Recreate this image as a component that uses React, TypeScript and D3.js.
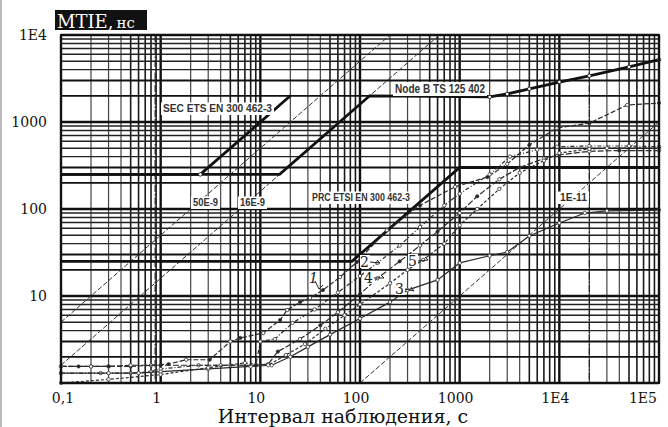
import React from "react";
import * as d3 from "d3";

// MTIE masks (ETSI / TS) and five measured MTIE curves, log-log, drawn with D3 scales.

const xTicks = [0.1, 1, 10, 100, 1000, 1e4, 1e5];
const xTickLabels = ["0,1", "1", "10", "100", "1000", "1E4", "1E5"];
const yTicks = [10, 100, 1000, 1e4];
const yTickLabels = ["10", "100", "1000", "1E4"];

// masks
const secTau = [0.1, 2.5, 20];
const secNs = [250, 250, 2000];
const nodeBTau = [0.1, 15.6, 125, 2000, 3000, 5000, 1e4, 2e4, 5e4, 1e5];
const nodeBNs = [250, 250, 2000, 1940, 2100, 2400, 2880, 3400, 4300, 5200];
const prcTau = [0.1, 83, 1000, 1e5];
const prcNs = [25, 25, 300, 300];

// frequency offset lines (endpoints)
const f50Tau = [0.1, 200];
const f50Ns = [5, 1e4];
const f16Tau = [0.1, 625];
const f16Ns = [1.6, 1e4];
const f11Tau = [100, 1e5];
const f11Ns = [1, 1000];

// measured curves
const c1Tau = [0.1, 0.2, 0.3, 0.5, 0.8, 1.2, 1.8, 3.1, 5, 6.3, 10.7, 15.8, 18.6, 25, 31.5, 42.5, 63, 93, 186, 400, 900, 1900, 3000, 5000, 9400, 2e4, 4.8e4, 1e5];
const c1Ns = [1.55, 1.55, 1.55, 1.55, 1.6, 1.65, 1.85, 1.85, 3.0, 3.3, 3.75, 5.3, 6.9, 8.5, 9.5, 11.7, 16.5, 24.6, 57, 110, 180, 233, 330, 545, 850, 970, 1570, 1650];
const c2Tau = [0.1, 0.25, 0.5, 0.8, 1, 2.4, 5, 9, 10, 14, 21, 35, 60, 100, 150, 250, 400, 700, 1000, 2000, 3200, 6000, 9500, 2e4, 5e4, 1e5];
const c2Ns = [1.3, 1.3, 1.3, 1.35, 1.45, 1.6, 1.6, 1.6, 3.0, 3.2, 4.9, 7, 11, 17, 24, 38, 62, 110, 150, 250, 400, 480, 520, 530, 530, 520];
const c3Tau = [0.1, 0.3, 0.6, 1, 3, 8, 13, 20, 30, 50, 100, 200, 300, 600, 1000, 2000, 3000, 5000, 1e4, 1.8e4, 3e4, 1e5];
const c3Ns = [1.3, 1.3, 1.3, 1.35, 1.45, 1.55, 1.6, 2.0, 2.6, 3.6, 5.5, 8.5, 11.7, 15.3, 24, 29, 32, 49, 69, 90, 95, 97];
const c4Tau = [0.1, 0.15, 0.2, 0.3, 0.5, 1, 4, 9, 12, 15, 25, 40, 60, 100, 150, 250, 400, 600, 1000, 1500, 2500, 4000, 7000, 1e4, 2e4, 4e4, 1e5];
const c4Ns = [1.55, 1.55, 1.55, 1.55, 1.6, 1.6, 1.6, 1.6, 1.65, 2.3, 3.2, 4.6, 6.5, 10.5, 16, 25, 38, 55, 90, 140, 220, 300, 380, 420, 460, 470, 470];
const c5Tau = [0.1, 0.3, 1, 3, 7, 12, 18, 28, 45, 70, 100, 200, 300, 430, 700, 1000, 1500, 2500, 4000, 7000, 1e4, 2e4, 3e4, 1e5];
const c5Ns = [1.0, 1.1, 1.25, 1.5, 1.7, 1.6, 2.1, 2.8, 4.2, 6, 8, 14, 20, 26, 40, 65, 100, 170, 260, 360, 440, 490, 500, 500];

const dashVerticals = [0.88, 2.0e4];

const zip = (t: number[], v: number[]) => t.map((d, i) => [d, v[i]] as [number, number]);

export default function App() {
  const x = d3.scaleLog().domain([0.1, 1e5]).range([61, 659]);
  const y = d3.scaleLog().domain([1, 1e4]).range([383, 35]);
  const line = d3
    .line<[number, number]>()
    .x((d) => x(d[0]))
    .y((d) => y(d[1]));

  const vGrid: { v: number; k: number }[] = [];
  [0.1, 1, 10, 100, 1000, 1e4].forEach((dec) => {
    for (let k = 1; k <= 9; k++) vGrid.push({ v: dec * k, k });
  });
  vGrid.push({ v: 1e5, k: 1 });
  const hGrid: { v: number; k: number }[] = [];
  [1, 10, 100, 1000].forEach((dec) => {
    for (let k = 1; k <= 9; k++) hGrid.push({ v: dec * k, k });
  });
  hGrid.push({ v: 1e4, k: 1 });

  const curves = [
    { d: zip(c1Tau, c1Ns), dash: "5 2", filled: true },
    { d: zip(c2Tau, c2Ns), dash: "4 2 1 2", filled: false },
    { d: zip(c3Tau, c3Ns), dash: "none", filled: false },
    { d: zip(c4Tau, c4Ns), dash: "6 2", filled: true },
    { d: zip(c5Tau, c5Ns), dash: "3 2", filled: false },
  ];

  const maskLabel = (txt: string, x0: number, x1: number, base: number, size = 10.5) => (
    <g key={txt}>
      <rect x={x0 - 2} y={base - size + 1} width={x1 - x0 + 4} height={size + 2} fill="#fff" />
      <text
        x={x0}
        y={base}
        fontFamily="Liberation Sans, Arial, sans-serif"
        fontSize={size}
        fontWeight={600}
        fill="#333"
        textLength={x1 - x0}
        lengthAdjust="spacingAndGlyphs"
      >
        {txt}
      </text>
    </g>
  );

  const serif = "DejaVu Serif, serif";

  return (
    <svg
      width={668}
      height={427}
      style={{ position: "absolute", left: 0, top: 0, background: "#fff" }}
    >
      <rect width={668} height={427} fill="#fff" />
      <line x1={1} x2={1} y1={0} y2={427} stroke="#bbb" strokeWidth={2} />

      {/* grid */}
      {vGrid.map((g, i) => (
        <line
          key={"v" + i}
          x1={x(g.v)}
          x2={x(g.v)}
          y1={35}
          y2={383}
          stroke={g.k === 1 ? "#111" : g.k < 5 ? "#444" : "#1a1a1a"}
          strokeWidth={g.k === 1 ? 2.4 : g.k < 5 ? 1.2 : 1.6}
        />
      ))}
      {hGrid.map((g, i) => (
        <line
          key={"h" + i}
          x1={61}
          x2={659}
          y1={y(g.v)}
          y2={y(g.v)}
          stroke={g.k < 4 ? "#111" : "#222"}
          strokeWidth={g.k === 1 ? 2.4 : g.k < 4 ? 1.8 : 1.4}
        />
      ))}
      {dashVerticals.map((v) => (
        <line
          key={"dv" + v}
          x1={x(v)}
          x2={x(v)}
          y1={35}
          y2={383}
          stroke="#222"
          strokeWidth={1.2}
          strokeDasharray="7 2 1.5 2"
        />
      ))}

      {/* frequency offset lines */}
      {[zip(f50Tau, f50Ns), zip(f16Tau, f16Ns), zip(f11Tau, f11Ns)].map((d, i) => (
        <path key={"f" + i} d={line(d) || ""} fill="none" stroke="#333" strokeWidth={1} strokeDasharray="5 2" />
      ))}

      {/* masks */}
      {[zip(secTau, secNs), zip(nodeBTau, nodeBNs), zip(prcTau, prcNs)].map((d, i) => (
        <path key={"m" + i} d={line(d) || ""} fill="none" stroke="#111" strokeWidth={2.8} />
      ))}
      {zip(nodeBTau, nodeBNs)
        .slice(3)
        .map((d, i) => (
          <circle key={"nb" + i} cx={x(d[0])} cy={y(d[1])} r={1.8} fill="#fff" stroke="#111" strokeWidth={0.8} />
        ))}
      <circle cx={x(secTau[1])} cy={y(secNs[1])} r={1.8} fill="#fff" stroke="#111" strokeWidth={0.8} />

      {/* measured curves */}
      {curves.map((c, i) => (
        <g key={"c" + i}>
          <path d={line(c.d) || ""} fill="none" stroke="#2a2a2a" strokeWidth={1.2} strokeDasharray={c.dash} />
          {c.d.map((p, j) => (
            <circle
              key={j}
              cx={x(p[0])}
              cy={y(p[1])}
              r={c.filled && j % 2 ? 1.6 : 1.7}
              fill={c.filled && j % 2 ? "#222" : "#fff"}
              stroke="#333"
              strokeWidth={0.8}
            />
          ))}
        </g>
      ))}

      {/* mask labels */}
      {maskLabel("SEC ETS EN 300 462-3", 163, 272, 112)}
      {maskLabel("50E-9", 193, 218, 206)}
      {maskLabel("16E-9", 240, 265, 206)}
      {maskLabel("PRC ETSI EN 300 462-3", 312, 410, 201)}
      {maskLabel("Node B TS 125 402", 395, 485, 93, 12)}
      {maskLabel("1E-11", 560, 587, 201)}

      {/* curve numbers */}
      <g fontFamily={serif} fontSize={14} fill="#222">
        <text x={309} y={283} fontStyle="italic">1</text>
        <path d="M315,281 L319,289 L323,285" fill="none" stroke="#222" strokeWidth={1} />
        <rect x={360} y={255} width={10} height={13} fill="#fff" />
        <text x={360} y={267}>2</text>
        <path d="M370,262 L380,263 L377,260" fill="none" stroke="#222" strokeWidth={1} />
        <rect x={364} y={271} width={10} height={13} fill="#fff" />
        <text x={364} y={283}>4</text>
        <path d="M374,278 L384,278 L381,275" fill="none" stroke="#222" strokeWidth={1} />
        <rect x={408} y={254} width={10} height={13} fill="#fff" />
        <text x={408} y={266}>5</text>
        <path d="M418,261 L428,260 L425,257" fill="none" stroke="#222" strokeWidth={1} />
        <rect x={395} y={282} width={10} height={13} fill="#fff" />
        <text x={395} y={294}>3</text>
        <path d="M405,289 L414,291 L411,287" fill="none" stroke="#222" strokeWidth={1} />
      </g>

      {/* frame */}
      <rect x={61} y={35} width={598} height={348} fill="none" stroke="#111" strokeWidth={2} />

      {/* tick labels */}
      <g fontFamily={serif} fontSize={14} fill="#111">
        {yTicks.map((v, i) => (
          <text key={"yt" + i} x={47} y={y(v) + 5} textAnchor="end">
            {yTickLabels[i]}
          </text>
        ))}
        {xTicks.map((v, i) => (
          <text
            key={"xt" + i}
            x={i === xTicks.length - 1 ? x(v) - 2 : x(v) - (i === 0 ? -2 : 4)}
            y={403}
            textAnchor={i === xTicks.length - 1 ? "end" : "middle"}
          >
            {xTickLabels[i]}
          </text>
        ))}
        <text x={343} y={423} textAnchor="middle" fontSize={19}>
          Интервал наблюдения, с
        </text>
      </g>

      {/* title */}
      <rect x={55} y={10} width={92} height={20} fill="#111" />
      <text x={57} y={28} fontFamily={serif} fill="#fff">
        <tspan fontSize={18}>MTIE,</tspan>
        <tspan fontSize={15} dx={3}>нс</tspan>
      </text>
    </svg>
  );
}
